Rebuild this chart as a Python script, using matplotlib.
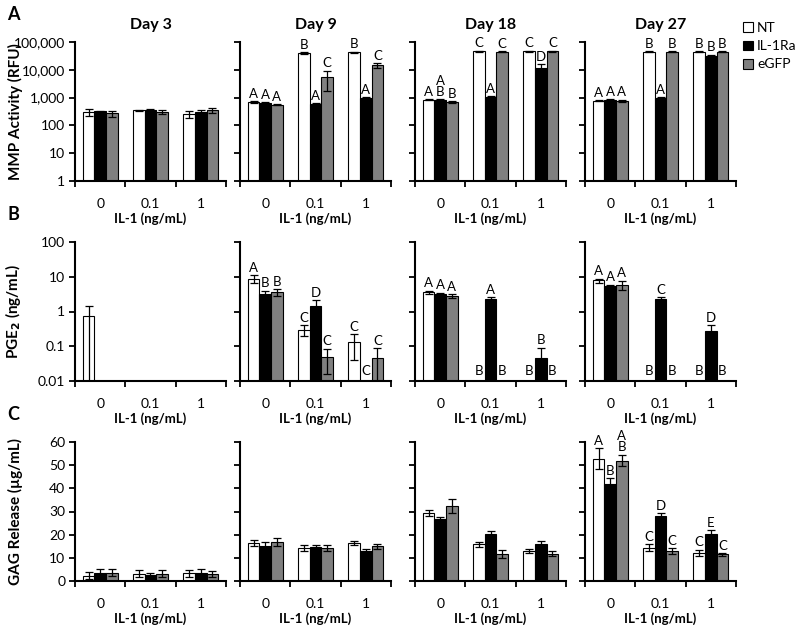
import numpy as np
import matplotlib.pyplot as plt
from matplotlib.patches import Patch

plt.rcParams['font.family'] = ['Lato', 'DejaVu Sans']

days = ['Day 3', 'Day 9', 'Day 18', 'Day 27']
doses = ['0', '0.1', '1']
groups = ['NT', 'IL-1Ra', 'eGFP']
colors = ['white', 'black', '#808080']
nan = np.nan

# MMP activity (RFU), one list per day, values for doses 0 / 0.1 / 1
mmp_nt = [[300, 350, 260], [700, 40000, 42000], [850, 47000, 47000], [760, 44000, 44000]]
mmp_ra = [[320, 360, 300], [650, 570, 950], [850, 1050, 11500], [820, 950, 31000]]
mmp_gfp = [[270, 300, 350], [560, 5500, 14500], [700, 44000, 47000], [760, 44000, 44000]]
mmp_nt_err = [[90, 20, 70], [50, 3000, 3000], [40, 2000, 2000], [30, 2000, 2000]]
mmp_ra_err = [[20, 40, 60], [40, 60, 80], [40, 80, 4500], [40, 80, 4000]]
mmp_gfp_err = [[70, 50, 60], [30, 3700, 3000], [40, 2000, 2000], [80, 2000, 2000]]
mmp_nt_lab = [['', '', ''], ['A', 'B', 'B'], ['A', 'C', 'C'], ['A', 'B', 'B']]
mmp_ra_lab = [['', '', ''], ['A', 'A', 'A'], ['A\nB', 'A', 'D'], ['A', 'A', 'B']]
mmp_gfp_lab = [['', '', ''], ['A', 'C', 'C'], ['B', 'C', 'C'], ['A', 'B', 'B']]

# PGE2 (ng/mL), nan = not detected
pge_nt = [[0.72, nan, nan], [8.7, 0.30, 0.13], [3.6, nan, nan], [7.8, nan, nan]]
pge_ra = [[nan, nan, nan], [3.2, 1.45, nan], [3.2, 2.3, 0.045], [5.3, 2.3, 0.27]]
pge_gfp = [[nan, nan, nan], [3.6, 0.05, 0.045], [2.8, nan, nan], [5.9, nan, nan]]
pge_nt_err = [[0.75, 0, 0], [2.2, 0.1, 0.09], [0.4, 0, 0], [1.0, 0, 0]]
pge_ra_err = [[0, 0, 0], [0.8, 0.7, 0], [0.3, 0.3, 0.045], [0.6, 0.3, 0.13]]
pge_gfp_err = [[0, 0, 0], [0.8, 0.034, 0.043], [0.4, 0, 0], [1.8, 0, 0]]
pge_nt_lab = [['', '', ''], ['A', 'C', 'C'], ['A', 'B', 'B'], ['A', 'B', 'B']]
pge_ra_lab = [['', '', ''], ['B', 'D', 'C'], ['A', 'A', 'B'], ['A', 'C', 'D']]
pge_gfp_lab = [['', '', ''], ['B', 'C', 'C'], ['A', 'B', 'B'], ['A', 'B', 'B']]

# GAG release (ug/mL)
gag_nt = [[2.3, 3.2, 3.3], [16.4, 14.4, 16.4], [29.3, 15.8, 12.9], [52.7, 14.3, 12.2]]
gag_ra = [[3.5, 2.8, 3.5], [15.2, 14.6, 13.0], [26.6, 20.5, 16.1], [42.0, 28.2, 20.5]]
gag_gfp = [[3.5, 3.2, 3.0], [16.8, 14.1, 15.0], [32.4, 11.8, 11.8], [52.0, 12.9, 11.5]]
gag_nt_err = [[1.5, 1.5, 1.5], [1.5, 1.3, 1.0], [1.3, 1.0, 1.0], [4.5, 1.5, 1.3]]
gag_ra_err = [[1.5, 0.8, 1.5], [1.5, 1.0, 1.0], [1.2, 1.2, 1.0], [2.5, 1.0, 1.3]]
gag_gfp_err = [[1.5, 1.5, 1.3], [1.8, 1.3, 1.0], [3.2, 1.7, 1.0], [2.5, 1.3, 0.6]]
gag_nt_lab = [['', '', ''], ['', '', ''], ['', '', ''], ['A', 'C', 'C']]
gag_ra_lab = [['', '', ''], ['', '', ''], ['', '', ''], ['B', 'D', 'E']]
gag_gfp_lab = [['', '', ''], ['', '', ''], ['', '', ''], ['A\nB', 'C', 'C']]

rows = [
    dict(vals=[mmp_nt, mmp_ra, mmp_gfp], errs=[mmp_nt_err, mmp_ra_err, mmp_gfp_err],
         labs=[mmp_nt_lab, mmp_ra_lab, mmp_gfp_lab], log=True, ylim=(1, 100000),
         ticks=[1, 10, 100, 1000, 10000, 100000],
         ticklabels=['1', '10', '100', '1,000', '10,000', '100,000'],
         ylabel='MMP Activity (RFU)', tag='A'),
    dict(vals=[pge_nt, pge_ra, pge_gfp], errs=[pge_nt_err, pge_ra_err, pge_gfp_err],
         labs=[pge_nt_lab, pge_ra_lab, pge_gfp_lab], log=True, ylim=(0.01, 100),
         ticks=[0.01, 0.1, 1, 10, 100], ticklabels=['0.01', '0.1', '1', '10', '100'],
         ylabel='PGE$_\\mathbf{2}$ (ng/mL)', tag='B'),
    dict(vals=[gag_nt, gag_ra, gag_gfp], errs=[gag_nt_err, gag_ra_err, gag_gfp_err],
         labs=[gag_nt_lab, gag_ra_lab, gag_gfp_lab], log=False, ylim=(0, 60),
         ticks=[0, 10, 20, 30, 40, 50, 60], ticklabels=['0', '10', '20', '30', '40', '50', '60'],
         ylabel='GAG Release (µg/mL)', tag='C'),
]

W, H = 800, 632
fig = plt.figure(figsize=(W / 100, H / 100), dpi=100)
lefts = [75, 240, 415, 585]
tops = [42, 242, 442]
pw, ph = 151, 139
bw = 0.23
x = np.arange(len(doses))

for r, row in enumerate(rows):
    for d in range(len(days)):
        ax = fig.add_axes([lefts[d] / W, 1 - (tops[r] + ph) / H, pw / W, ph / H])
        if row['log']:
            ax.set_yscale('log')
        for k in range(3):
            v = np.array(row['vals'][k][d], dtype=float)
            e = np.array(row['errs'][k][d], dtype=float)
            pos = x + (k - 1) * bw
            ok = ~np.isnan(v)
            if ok.any():
                ax.bar(pos[ok], v[ok], bw, color=colors[k], edgecolor='black', linewidth=0.8,
                       yerr=e[ok], capsize=3,
                       error_kw=dict(elinewidth=0.9, capthick=0.9, ecolor='black'), zorder=2)
            for i in range(3):
                lab = row['labs'][k][d][i]
                if not lab:
                    continue
                if np.isnan(v[i]):
                    ax.annotate(lab, (pos[i], row['ylim'][0]), xytext=(0, 3),
                                textcoords='offset points', ha='center', va='bottom',
                                fontsize=9.5, linespacing=0.9)
                else:
                    ax.annotate(lab, (pos[i], v[i] + e[i]), xytext=(0, 1),
                                textcoords='offset points', ha='center', va='bottom',
                                fontsize=9.5, linespacing=0.9)
        ax.set_xlim(-0.5, 2.5)
        ax.set_ylim(*row['ylim'])
        ax.set_yticks(row['ticks'])
        ax.minorticks_off()
        if d == 0:
            ax.set_yticklabels(row['ticklabels'], fontsize=10)
            ax.set_ylabel(row['ylabel'], fontsize=11, fontweight='bold')
            ax.yaxis.set_label_coords(-52 / pw, 0.5)
        else:
            ax.set_yticklabels([])
        ax.set_xticks(x)
        ax.set_xticklabels(doses, fontsize=10)
        ax.set_xticks([-0.5, 0.5, 1.5, 2.5], minor=True)
        ax.tick_params(axis='x', which='major', length=0, pad=12)
        ax.tick_params(axis='x', which='minor', direction='out', length=4, width=1.3)
        ax.tick_params(axis='y', direction='out', length=4, width=1.3, pad=3)
        ax.set_xlabel('IL-1 (ng/mL)', fontsize=9.5, fontweight='bold', labelpad=2)
        for s in ['top', 'right']:
            ax.spines[s].set_visible(False)
        for s in ['left', 'bottom']:
            ax.spines[s].set_linewidth(1.5)
        if r == 0:
            ax.set_title(days[d], fontsize=11.5, fontweight='bold', pad=9)
    fig.text(13 / W, 1 - (tops[r] - 27) / H, row['tag'], fontsize=13, fontweight='bold',
             ha='center', va='center')

handles = [Patch(facecolor=c, edgecolor='black', linewidth=0.8) for c in colors]
fig.legend(handles, groups, loc='upper left', bbox_to_anchor=(743 / W, 1 - 22 / H),
           frameon=False, fontsize=10, handlelength=0.7, handleheight=0.7,
           handletextpad=0.3, labelspacing=0.45, borderpad=0, borderaxespad=0)

fig.savefig('out.png', dpi=100)
